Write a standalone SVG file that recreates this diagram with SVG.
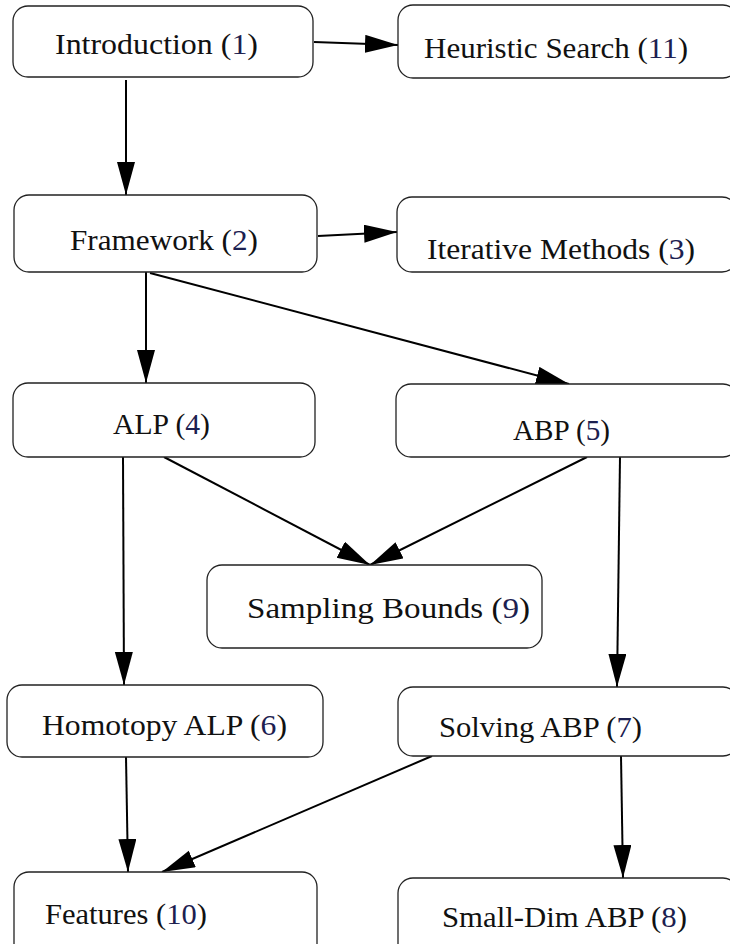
<svg xmlns="http://www.w3.org/2000/svg" width="730" height="944" viewBox="0 0 730 944">
<style>
.box{fill:#fff;stroke:#222;stroke-width:1.3}
.lbl{font-family:"Liberation Serif","Times New Roman",serif;font-size:29px;fill:#111}
.n{fill:#1c2050}
.edge{stroke:#000;stroke-width:2;fill:none;marker-end:url(#ah)}
</style>
<defs>
<marker id="ah" markerUnits="userSpaceOnUse" markerWidth="36" markerHeight="20" refX="33" refY="9" orient="auto">
<path d="M0,0 L33,9 L0,18 Z" fill="#000"/>
</marker>
</defs>
<rect width="730" height="944" fill="#fff"/>
<g id="connectors">
<line class="edge" x1="314" y1="42" x2="398" y2="45"/>
<line class="edge" x1="126" y1="80" x2="126" y2="195"/>
<line class="edge" x1="318" y1="236" x2="397" y2="232"/>
<line class="edge" x1="146" y1="272" x2="146" y2="383"/>
<line class="edge" x1="150" y1="273" x2="569" y2="384"/>
<line class="edge" x1="123" y1="457" x2="124" y2="685"/>
<line class="edge" x1="164" y1="457" x2="370" y2="565"/>
<line class="edge" x1="587" y1="457" x2="370" y2="565"/>
<line class="edge" x1="620" y1="457" x2="617" y2="687"/>
<line class="edge" x1="126" y1="757" x2="128" y2="872"/>
<line class="edge" x1="432" y1="756" x2="162" y2="872"/>
<line class="edge" x1="621" y1="756" x2="623" y2="878"/>
</g>
<g id="n1"><rect class="box" x="13" y="6" width="300" height="71" rx="15"/><text class="lbl" x="55" y="54" textLength="203" lengthAdjust="spacingAndGlyphs">Introduction (<tspan class="n">1</tspan>)</text></g>
<g id="n11"><rect class="box" x="398" y="5" width="340" height="73" rx="15"/><text class="lbl" x="424" y="58" textLength="264" lengthAdjust="spacingAndGlyphs">Heuristic Search (<tspan class="n">11</tspan>)</text></g>
<g id="n2"><rect class="box" x="14" y="195" width="303" height="77" rx="15"/><text class="lbl" x="70" y="250" textLength="188" lengthAdjust="spacingAndGlyphs">Framework (<tspan class="n">2</tspan>)</text></g>
<g id="n3"><rect class="box" x="397" y="197" width="340" height="75" rx="15"/><text class="lbl" x="427" y="259" textLength="268" lengthAdjust="spacingAndGlyphs">Iterative Methods (<tspan class="n">3</tspan>)</text></g>
<g id="n4"><rect class="box" x="13" y="383" width="302" height="74" rx="15"/><text class="lbl" x="113" y="434" textLength="97" lengthAdjust="spacingAndGlyphs">ALP (<tspan class="n">4</tspan>)</text></g>
<g id="n5"><rect class="box" x="396" y="384" width="342" height="73" rx="15"/><text class="lbl" x="513" y="440" textLength="97" lengthAdjust="spacingAndGlyphs">ABP (<tspan class="n">5</tspan>)</text></g>
<g id="n9"><rect class="box" x="207" y="565" width="335" height="83" rx="15"/><text class="lbl" x="247" y="618" textLength="283" lengthAdjust="spacingAndGlyphs">Sampling Bounds (<tspan class="n">9</tspan>)</text></g>
<g id="n6"><rect class="box" x="7" y="685" width="316" height="72" rx="15"/><text class="lbl" x="42" y="735" textLength="245" lengthAdjust="spacingAndGlyphs">Homotopy ALP (<tspan class="n">6</tspan>)</text></g>
<g id="n7"><rect class="box" x="398" y="687" width="340" height="69" rx="15"/><text class="lbl" x="439" y="737" textLength="203" lengthAdjust="spacingAndGlyphs">Solving ABP (<tspan class="n">7</tspan>)</text></g>
<g id="n10"><rect class="box" x="14" y="872" width="303" height="90" rx="15"/><text class="lbl" x="45" y="924" textLength="162" lengthAdjust="spacingAndGlyphs">Features (<tspan class="n">10</tspan>)</text></g>
<g id="n8"><rect class="box" x="398" y="878" width="340" height="90" rx="15"/><text class="lbl" x="442" y="927" textLength="245" lengthAdjust="spacingAndGlyphs">Small-Dim ABP (<tspan class="n">8</tspan>)</text></g>
</svg>
